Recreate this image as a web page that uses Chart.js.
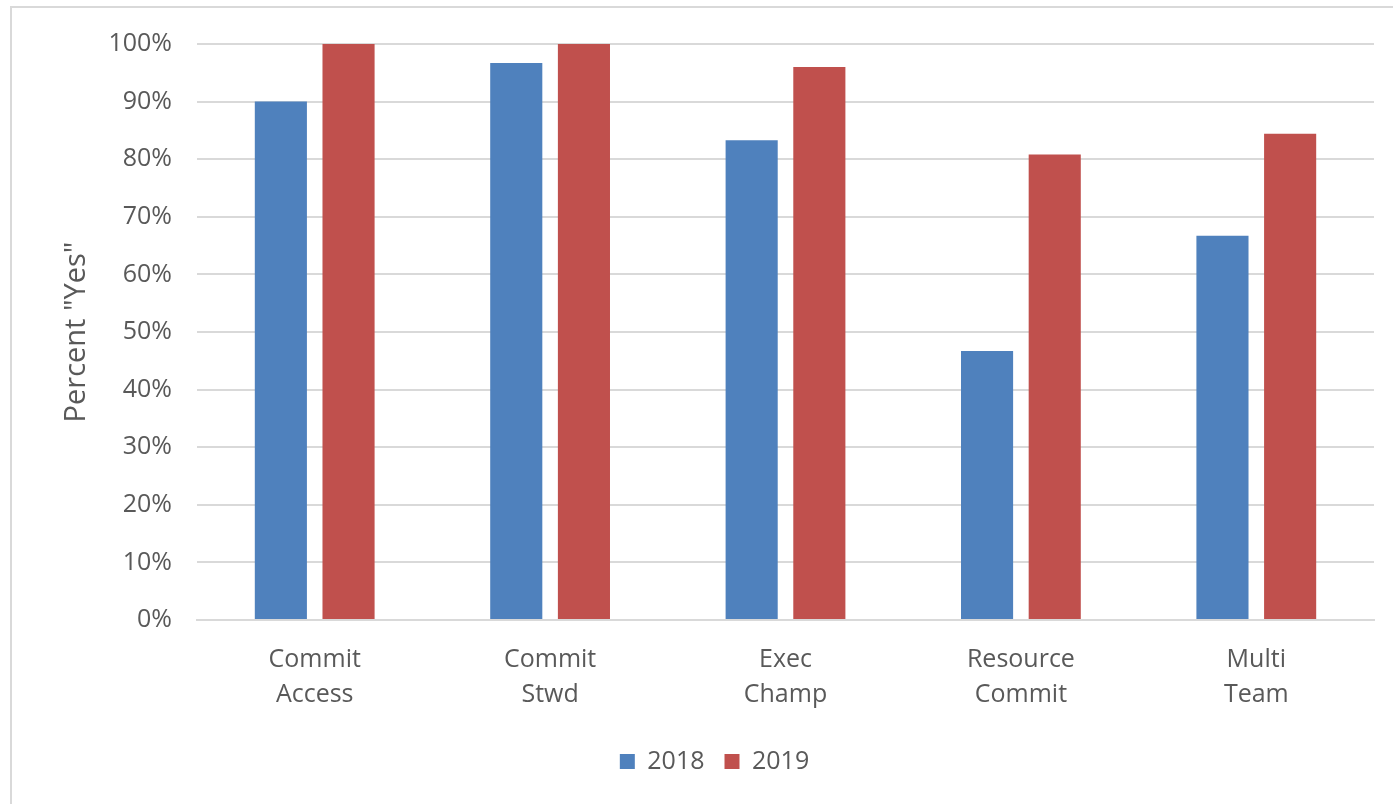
<!DOCTYPE html>
<html>
<head>
<meta charset="utf-8">
<script src="https://cdn.jsdelivr.net/npm/chart.js@4"></script>
<style>
  html, body { margin: 0; padding: 0; background: #fff; overflow: hidden; }
  #marco { position: absolute; left: 10px; top: 6px; width: 1420px; height: 840px; border: 2px solid #d9d9d9; box-sizing: border-box; }
  #caja { position: absolute; left: 0; top: 0; width: 1393px; height: 804px; }
</style>
</head>
<body>
<div id="marco"></div>
<div id="caja"><canvas id="grafico"></canvas></div>
<script>
// Datos
const categorias = [['Commit', 'Access'], ['Commit', 'Stwd'], ['Exec', 'Champ'], ['Resource', 'Commit'], ['Multi', 'Team']];
const serie2018 = [90, 96.7, 83.3, 46.7, 66.7];
const serie2019 = [100, 100, 96, 80.8, 84.4];
const ticksY = [0, 10, 20, 30, 40, 50, 60, 70, 80, 90, 100];

const fuente = "'Open Sans', sans-serif";
const gris = '#595959';

const ctx = document.getElementById('grafico').getContext('2d');
new Chart(ctx, {
  type: 'bar',
  data: {
    labels: categorias,
    datasets: [
      { label: '2018', data: serie2018, backgroundColor: '#4f81bd' },
      { label: '2019', data: serie2019, backgroundColor: '#c0504d' }
    ]
  },
  options: {
    responsive: true,
    maintainAspectRatio: false,
    animation: false,
    categoryPercentage: 0.575,
    barPercentage: 0.77,
    layout: { padding: { left: 55, right: 19, top: 44, bottom: 20 } },
    plugins: {
      tooltip: { enabled: false },
      legend: {
        position: 'bottom',
        labels: {
          boxWidth: 15, boxHeight: 15, padding: 20,
          color: gris,
          font: { family: fuente, size: 25 }
        }
      }
    },
    scales: {
      y: {
        min: 0, max: 100,
        afterBuildTicks: s => { s.ticks = ticksY.map(v => ({ value: v })); },
        afterFit: s => { s.width = 142; },
        border: { display: false },
        grid: { color: '#d9d9d9', lineWidth: 2, drawTicks: false },
        ticks: {
          padding: 25,
          color: gris,
          font: { family: fuente, size: 25 },
          callback: v => v + '%'
        },
        title: {
          display: true,
          text: 'Percent "Yes"',
          color: gris,
          font: { family: fuente, size: 29 },
          padding: { top: 4, bottom: 4 }
        }
      },
      x: {
        afterFit: s => { s.height = 109; },
        border: { color: '#d9d9d9', width: 2 },
        grid: { display: false, drawTicks: false },
        ticks: {
          padding: 22,
          color: gris,
          maxRotation: 0,
          font: { family: fuente, size: 25, lineHeight: 1.4 }
        }
      }
    }
  }
});
</script>
</body>
</html>
